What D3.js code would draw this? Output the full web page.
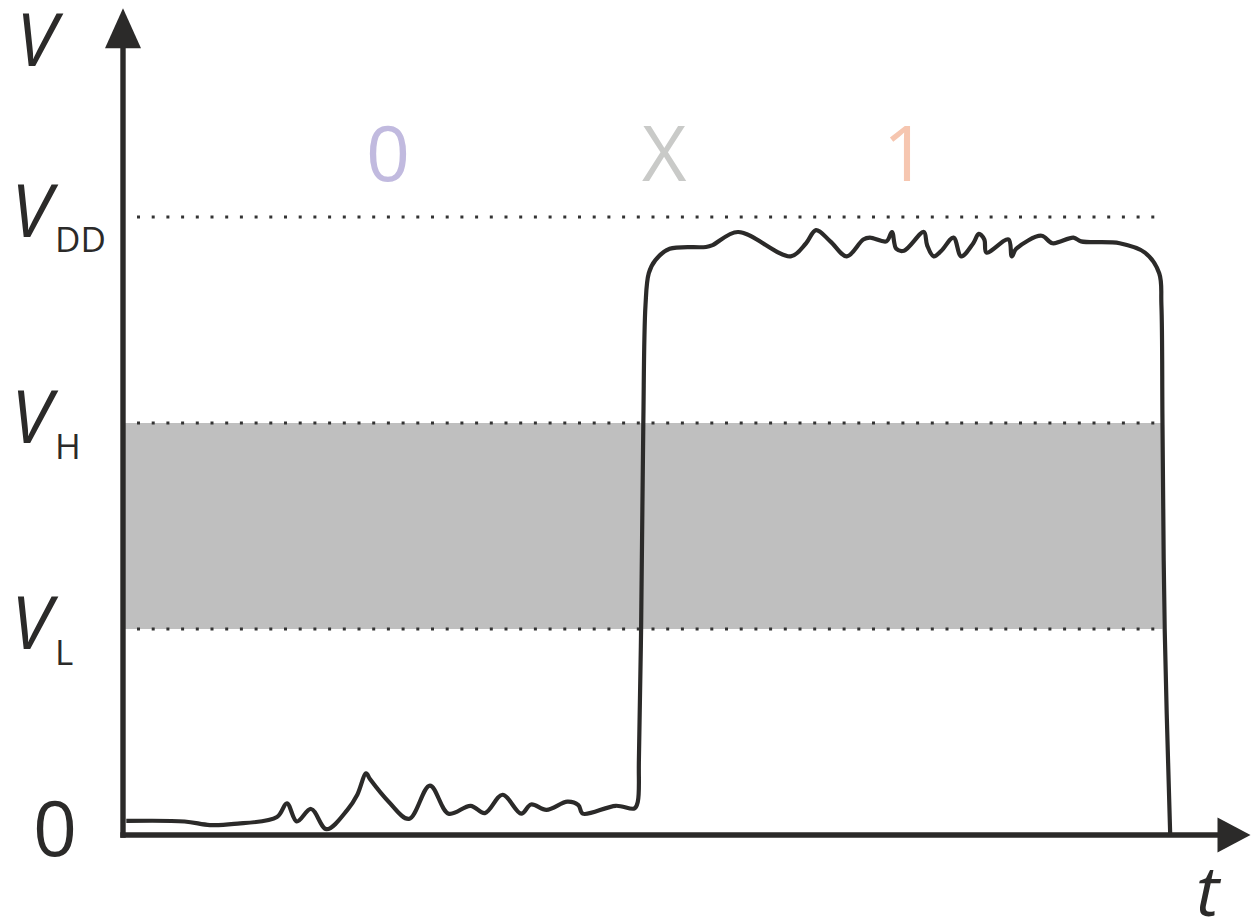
<!DOCTYPE html>
<html>
<head>
<meta charset="utf-8">
<script src="https://cdn.jsdelivr.net/npm/d3@7"></script>
<style>
  html, body { margin: 0; padding: 0; background: #ffffff; }
  svg { display: block; }
  text { font-family: "Open Sans", "Liberation Sans", sans-serif; }
</style>
</head>
<body>
<div id="chart"></div>
<script>
// ---------- data ----------
// time in arbitrary units (0..100), voltage in volts
const VDD = 3.3;
const levelNames = ["DD", "H", "L"];
const levelValues = [3.3, 2.2, 1.1];
const zeroLabel = "0";

const stateLabels = ["0", "X", "1"];
const stateTimes = [24.1, 49.2, 71.1];
const stateColors = ["#c1badf", "#c9cac8", "#f6c6b0"];

// forbidden band spans from the axis until the falling edge
const bandStart = 0;
const bandEnd = 94.5;

// sampled signal trace
const sigT = [0.3, 5.6, 7.9, 10.1, 14.0, 14.9, 15.8, 17.1, 18.5, 20.4, 21.3, 22.1, 22.45, 24.15, 26.0, 27.9, 29.6, 31.6, 32.9,
  34.5, 36.2, 37.1, 38.5, 40.4, 41.4, 41.8, 44.8, 46.5, 46.8, 46.9, 47.1, 47.3, 47.5, 47.8, 48.4,
  49.7, 53.0, 53.6, 55.9, 60.7, 62.1, 63.0, 64.3, 65.8, 67.3, 67.9, 69.4, 69.9, 70.3, 71.0, 72.8,
  73.1, 73.7, 74.4, 75.5, 76.2, 77.3, 77.8, 78.3, 78.5, 80.5, 80.8, 81.2, 83.5, 84.5, 86.4, 87.1,
  90.6, 92.9, 94.2, 94.4, 94.5, 94.7, 95.2];
const sigV = [0.075, 0.072, 0.053, 0.059, 0.096, 0.169, 0.072, 0.139, 0.031, 0.134, 0.215, 0.329, 0.299, 0.178, 0.086, 0.264, 0.114, 0.156, 0.117,
  0.215, 0.114, 0.163, 0.134, 0.178, 0.160, 0.114, 0.156, 0.142, 0.178, 0.40, 1.10, 2.19, 2.83, 3.00, 3.07,
  3.13, 3.14, 3.15, 3.22, 3.09, 3.16, 3.23, 3.17, 3.09, 3.18, 3.19, 3.17, 3.22, 3.13, 3.12, 3.22,
  3.15, 3.09, 3.12, 3.19, 3.09, 3.16, 3.21, 3.18, 3.11, 3.18, 3.09, 3.13, 3.20, 3.16, 3.19, 3.17,
  3.16, 3.11, 3.00, 2.83, 2.19, 1.10, 0.0];

// ---------- layout ----------
const W = 1251, H = 922;
const ink = "#2b2a29";
const tMaxAxis = 102.5, vMaxAxis = 4.415;

const x = d3.scaleLinear().domain([0, 100]).range([123, 1223]);
const y = d3.scaleLinear().domain([0, VDD]).range([835, 217]);

const svg = d3.select("#chart").append("svg")
  .attr("width", W).attr("height", H);

// band
svg.append("rect")
  .attr("x", x(bandStart)).attr("width", x(bandEnd) - x(bandStart))
  .attr("y", y(levelValues[1])).attr("height", y(levelValues[2]) - y(levelValues[1]))
  .attr("fill", "#bfbfbf");

// dotted level lines
svg.selectAll("line.level").data(levelValues).join("line")
  .attr("class", "level")
  .attr("x1", x(0) + 14).attr("x2", x(bandEnd) - 4)
  .attr("y1", d => y(d)).attr("y2", d => y(d))
  .attr("stroke", "#333").attr("stroke-width", 3)
  .attr("stroke-dasharray", "3 11.7");

// signal
const pts = sigT.map((t, i) => [t, sigV[i]]);
const line = d3.line()
  .x(d => x(d[0])).y(d => y(d[1]))
  .curve(d3.curveCatmullRom.alpha(0.5));
svg.append("path").datum(pts)
  .attr("d", line)
  .attr("fill", "none").attr("stroke", ink)
  .attr("stroke-width", 4.2)
  .attr("stroke-linejoin", "round").attr("stroke-linecap", "butt");

// axes
const ax = x(0), ay = y(0);
const yTop = y(vMaxAxis), xRight = x(tMaxAxis);
svg.append("line")
  .attr("x1", ax).attr("x2", ax).attr("y1", ay + 2.7).attr("y2", yTop + 30)
  .attr("stroke", ink).attr("stroke-width", 5.4);
svg.append("line")
  .attr("x1", ax - 2.7).attr("x2", xRight - 25).attr("y1", ay).attr("y2", ay)
  .attr("stroke", ink).attr("stroke-width", 5.6);
svg.append("path")
  .attr("d", `M${ax},${yTop} L${ax + 18},${yTop + 40} L${ax - 18},${yTop + 40} Z`)
  .attr("fill", ink);
svg.append("path")
  .attr("d", `M${xRight},${ay} L${xRight - 33},${ay + 17.5} L${xRight - 33},${ay - 17.5} Z`)
  .attr("fill", ink);

// axis titles
svg.append("text").attr("x", 16).attr("y", 66)
  .attr("font-size", 74).attr("font-style", "italic").attr("font-weight", 400)
  .attr("fill", ink).text("V");
svg.append("text").attr("x", 1196).attr("y", 916)
  .attr("font-size", 70).attr("font-style", "italic").attr("font-weight", 400)
  .attr("fill", ink).text("t");

// level tick labels
const lg = svg.selectAll("g.lvl").data(levelValues).join("g").attr("class", "lvl");
lg.append("text").attr("x", 11).attr("y", d => y(d) + 20)
  .attr("font-size", 74).attr("font-style", "italic").attr("font-weight", 400)
  .attr("fill", ink).text("V");
lg.append("text").attr("x", 55).attr("y", (d, i) => y(d) + (i === 0 ? 35 : 36))
  .attr("font-size", 35).attr("font-weight", 400)
  .attr("fill", ink).text((d, i) => levelNames[i]);

svg.append("text").attr("x", 55).attr("y", y(0) + 21)
  .attr("text-anchor", "middle")
  .attr("font-size", 77).attr("font-weight", 400)
  .attr("fill", ink).text(zeroLabel);

// state labels
svg.selectAll("text.state").data(stateLabels).join("text")
  .attr("class", "state")
  .attr("x", (d, i) => x(stateTimes[i])).attr("y", 181)
  .attr("text-anchor", "middle")
  .attr("font-size", 77).attr("font-weight", 400)
  .attr("fill", (d, i) => stateColors[i]).text(d => d);
</script>
</body>
</html>
